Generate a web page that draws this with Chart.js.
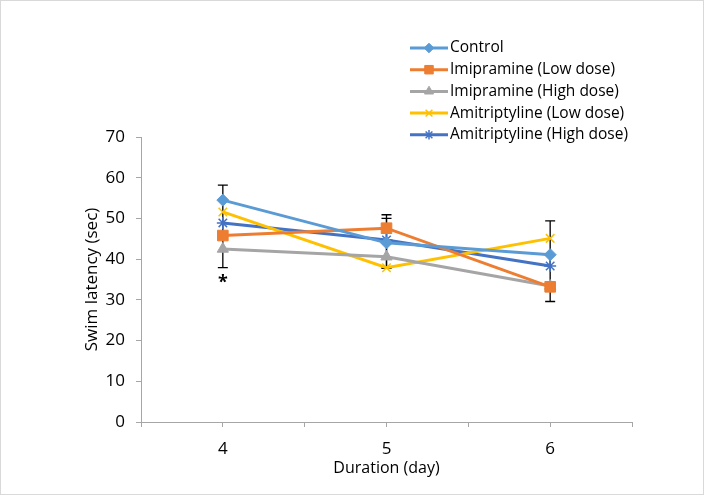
<!DOCTYPE html>
<html>
<head>
<meta charset="utf-8">
<script src="https://cdn.jsdelivr.net/npm/chart.js@4/dist/chart.umd.min.js"></script>
<style>
  html, body { margin: 0; padding: 0; background: #fff; }
  #wrap { width: 704px; height: 495px; position: relative; box-sizing: border-box; border: 1px solid #d9d9d9; }
  canvas { display: block; }
</style>
</head>
<body>
<div id="wrap"><canvas id="grafico" width="702" height="493"></canvas></div>
<script>
const dias = [4, 5, 6];
const controle = [54.5, 44.0, 41.1];
const imipBaixa = [45.8, 47.6, 33.2];
const imipAlta = [42.5, 40.6, 33.4];
const amiBaixa = [51.6, 37.9, 45.1];
const amiAlta = [48.9, 44.7, 38.3];

// barras de erro (dia, inferior, superior)
const erroDia = [4, 5, 5, 6];
const erroInf = [37.9, 37.8, 37.8, 29.6];
const erroSup = [58.2, 50.9, 50.0, 49.4];

const marcaDia = 4;
const marcaValor = 35.3;

const fonte = '"Open Sans", "Liberation Sans", sans-serif';

function serie(label, valores, cor, estilo, raio, bordaPonto) {
  return {
    label,
    data: dias.map((d, i) => ({ x: d, y: valores[i] })),
    borderColor: cor,
    backgroundColor: cor,
    pointBackgroundColor: cor,
    pointBorderColor: cor,
    pointStyle: estilo,
    pointRadius: raio,
    pointBorderWidth: bordaPonto,
    borderWidth: 3,
    tension: 0
  };
}

const barrasErro = {
  id: 'barrasErro',
  beforeDatasetsDraw(chart) {
    const { ctx, scales: { x, y } } = chart;
    ctx.save();
    ctx.strokeStyle = '#000';
    ctx.lineWidth = 1.3;
    erroDia.forEach((d, i) => {
      const px = x.getPixelForValue(d);
      const y1 = y.getPixelForValue(erroInf[i]);
      const y2 = y.getPixelForValue(erroSup[i]);
      ctx.beginPath();
      ctx.moveTo(px, y1); ctx.lineTo(px, y2);
      ctx.moveTo(px - 5, y1); ctx.lineTo(px + 5, y1);
      ctx.moveTo(px - 5, y2); ctx.lineTo(px + 5, y2);
      ctx.stroke();
    });
    ctx.restore();
  },
  afterDatasetsDraw(chart) {
    const { ctx, scales: { x, y } } = chart;
    ctx.save();
    ctx.fillStyle = '#000';
    ctx.font = 'bold 18px ' + fonte;
    ctx.textAlign = 'center';
    ctx.textBaseline = 'middle';
    ctx.fillText('*', x.getPixelForValue(marcaDia), y.getPixelForValue(marcaValor) + 5);
    ctx.restore();
  }
};

const legenda = {
  id: 'legenda',
  afterDraw(chart) {
    const ctx = chart.ctx;
    ctx.save();
    ctx.font = '15.5px ' + fonte;
    ctx.textBaseline = 'middle';
    chart.data.datasets.forEach((ds, i) => {
      const yy = 47 + i * 21.7;
      ctx.strokeStyle = ds.borderColor;
      ctx.lineWidth = 3;
      ctx.beginPath();
      ctx.moveTo(409, yy); ctx.lineTo(447, yy);
      ctx.stroke();
      ctx.fillStyle = ds.backgroundColor;
      ctx.lineWidth = ds.pointBorderWidth;
      Chart.helpers.drawPoint(ctx, {
        pointStyle: ds.pointStyle, radius: ds.pointRadius * 0.8,
        borderWidth: ds.pointBorderWidth, rotation: 0
      }, 428, yy);
      ctx.fillStyle = '#000';
      ctx.fillText(ds.label, 449, yy);
    });
    ctx.restore();
  }
};

new Chart(document.getElementById('grafico'), {
  type: 'line',
  data: {
    datasets: [
      serie('Control', controle, '#5B9BD5', 'rectRot', 6, 1),
      serie('Imipramine (Low dose)', imipBaixa, '#ED7D31', 'rect', 7.5, 1),
      serie('Imipramine (High dose)', imipAlta, '#A5A5A5', 'triangle', 6.5, 1),
      serie('Amitriptyline (Low dose)', amiBaixa, '#FFC000', 'crossRot', 6, 1.5),
      serie('Amitriptyline (High dose)', amiAlta, '#4472C4', 'star', 6, 1.5)
    ]
  },
  options: {
    responsive: false,
    animation: false,
    layout: { padding: { top: 136, right: 71, left: 79, bottom: 14 } },
    plugins: { legend: { display: false }, tooltip: { enabled: false } },
    scales: {
      x: {
        type: 'linear',
        min: 3.5, max: 6.5,
        border: { color: '#a6a6a6', width: 1 },
        grid: { drawOnChartArea: false, color: '#a6a6a6', tickLength: 5 },
        ticks: {
          stepSize: 0.5,
          color: '#000',
          font: { size: 17, family: fonte },
          padding: 12,
          maxRotation: 0,
          callback: v => Number.isInteger(v) ? String(v) : ''
        },
        title: { display: true, text: 'Duration (day)', color: '#000', font: { size: 16, family: fonte }, padding: { top: 0, bottom: 2 } },
        afterFit: s => { s.height = 493 - 421 - 14; }
      },
      y: {
        min: 0, max: 70,
        border: { color: '#a6a6a6', width: 1 },
        grid: { drawOnChartArea: false, color: '#a6a6a6', tickLength: 5 },
        ticks: { stepSize: 10, color: '#000', font: { size: 17, family: fonte }, padding: 11 },
        title: { display: true, text: 'Swim latency (sec)', color: '#000', font: { size: 17, family: fonte }, padding: { top: 2, bottom: 0 } },
        afterFit: s => { s.width = 140 - 79; }
      }
    }
  },
  plugins: [barrasErro, legenda]
});
</script>
</body>
</html>
